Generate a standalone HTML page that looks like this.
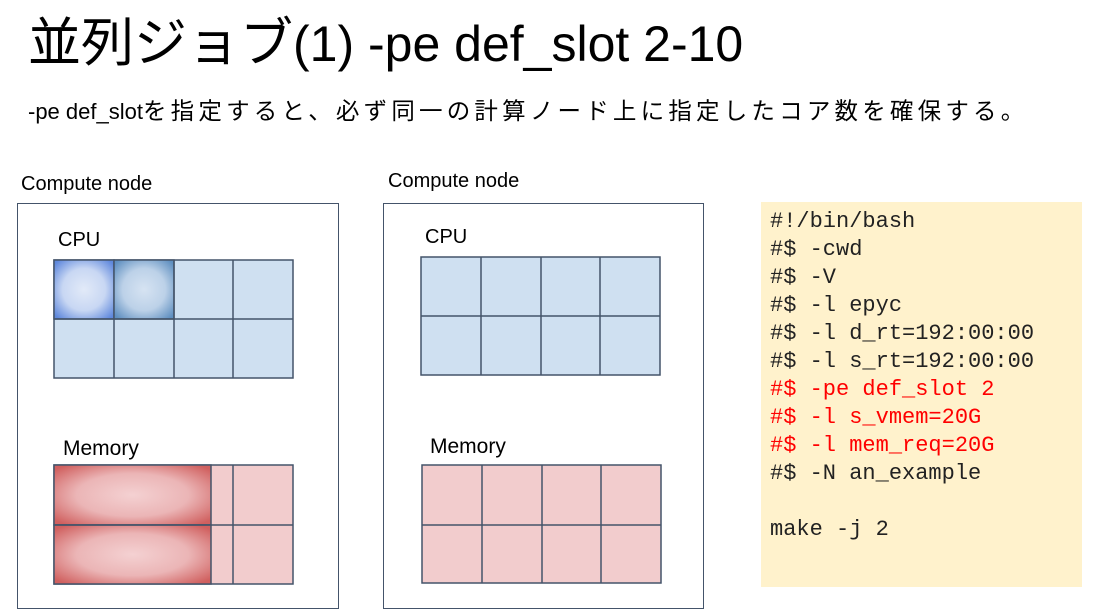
<!DOCTYPE html>
<html><head><meta charset="utf-8"><style>
body{margin:0;width:1098px;height:615px;background:#fff;overflow:hidden;position:relative;font-family:"Liberation Sans","Noto Sans CJK JP",sans-serif}
.t{position:absolute;white-space:nowrap;color:#000}
</style></head><body>
<div class="t" style="left:28px;top:15px;font-size:53px;line-height:1.1;">並列ジョブ<span style="font-size:50px">(1) -pe def_slot 2-10</span></div>
<div class="t" style="left:28px;top:92px;font-size:22px;">-pe def_slot<span style="font-size:23.5px;letter-spacing:4.2px">を指定すると、必ず同一の計算ノード上に指定したコア数を確保する。</span></div>
<div class="t" style="left:21px;top:173px;font-size:20px;">Compute node</div>
<div class="t" style="left:388px;top:170px;font-size:20px;">Compute node</div>
<div class="t" style="left:58px;top:229px;font-size:20px;">CPU</div>
<div class="t" style="left:425px;top:226px;font-size:20px;">CPU</div>
<div class="t" style="left:63px;top:437px;font-size:21px;">Memory</div>
<div class="t" style="left:430px;top:435px;font-size:21px;">Memory</div>
<svg width="1098" height="615" style="position:absolute;left:0;top:0">
<defs>
<radialGradient id="b1" cx="50%" cy="50%" r="65%"><stop offset="0" stop-color="#e2eaf8"/><stop offset="0.55" stop-color="#c8d7f3"/><stop offset="1" stop-color="#5f88dc"/></radialGradient>
<radialGradient id="b2" cx="50%" cy="50%" r="65%"><stop offset="0" stop-color="#d6e3f2"/><stop offset="0.55" stop-color="#bcd1e8"/><stop offset="1" stop-color="#5f8fc0"/></radialGradient>
<radialGradient id="r1" cx="50%" cy="50%" r="65%"><stop offset="0" stop-color="#f4d1d2"/><stop offset="0.55" stop-color="#ebb5b6"/><stop offset="1" stop-color="#d0605f"/></radialGradient>
</defs>
<g fill="none" stroke="#44546a" stroke-width="1">
<rect x="17.5" y="203.5" width="321" height="405"/>
<rect x="383.5" y="203.5" width="320" height="405"/>
</g>
<g stroke="#44546a" stroke-width="1.5">
<rect x="54" y="260" width="239" height="118" fill="#cfe0f1"/>
<rect x="54" y="260" width="60" height="59" fill="url(#b1)"/>
<rect x="114" y="260" width="60" height="59" fill="url(#b2)"/>
<line x1="174" y1="260" x2="174" y2="378"/><line x1="233" y1="260" x2="233" y2="378"/>
<line x1="114" y1="319" x2="114" y2="378"/><line x1="54" y1="319" x2="293" y2="319"/>

<rect x="54" y="465" width="239" height="119" fill="#f2cccd"/>
<rect x="54" y="465" width="157" height="60" fill="url(#r1)"/>
<rect x="54" y="525" width="157" height="59" fill="url(#r1)"/>
<line x1="233" y1="465" x2="233" y2="584"/><line x1="54" y1="525" x2="293" y2="525"/>

<rect x="421" y="257" width="239" height="118" fill="#cfe0f1"/>
<line x1="481" y1="257" x2="481" y2="375"/><line x1="541" y1="257" x2="541" y2="375"/><line x1="600" y1="257" x2="600" y2="375"/>
<line x1="421" y1="316" x2="660" y2="316"/>

<rect x="422" y="465" width="239" height="118" fill="#f2cccd"/>
<line x1="482" y1="465" x2="482" y2="583"/><line x1="542" y1="465" x2="542" y2="583"/><line x1="601" y1="465" x2="601" y2="583"/>
<line x1="422" y1="525" x2="661" y2="525"/>
</g>
<rect x="761" y="202" width="321" height="385" fill="#fff2cc"/>
<g font-family="Liberation Mono, monospace" font-size="22" fill="#222">
<text x="770" y="227">#!/bin/bash</text>
<text x="770" y="255">#$ -cwd</text>
<text x="770" y="283">#$ -V</text>
<text x="770" y="311">#$ -l epyc</text>
<text x="770" y="339">#$ -l d_rt=192:00:00</text>
<text x="770" y="367">#$ -l s_rt=192:00:00</text>
<text x="770" y="395" fill="#ff0000">#$ -pe def_slot 2</text>
<text x="770" y="423" fill="#ff0000">#$ -l s_vmem=20G</text>
<text x="770" y="451" fill="#ff0000">#$ -l mem_req=20G</text>
<text x="770" y="479">#$ -N an_example</text>
<text x="770" y="535">make -j 2</text>
</g>
</svg>
</body></html>
